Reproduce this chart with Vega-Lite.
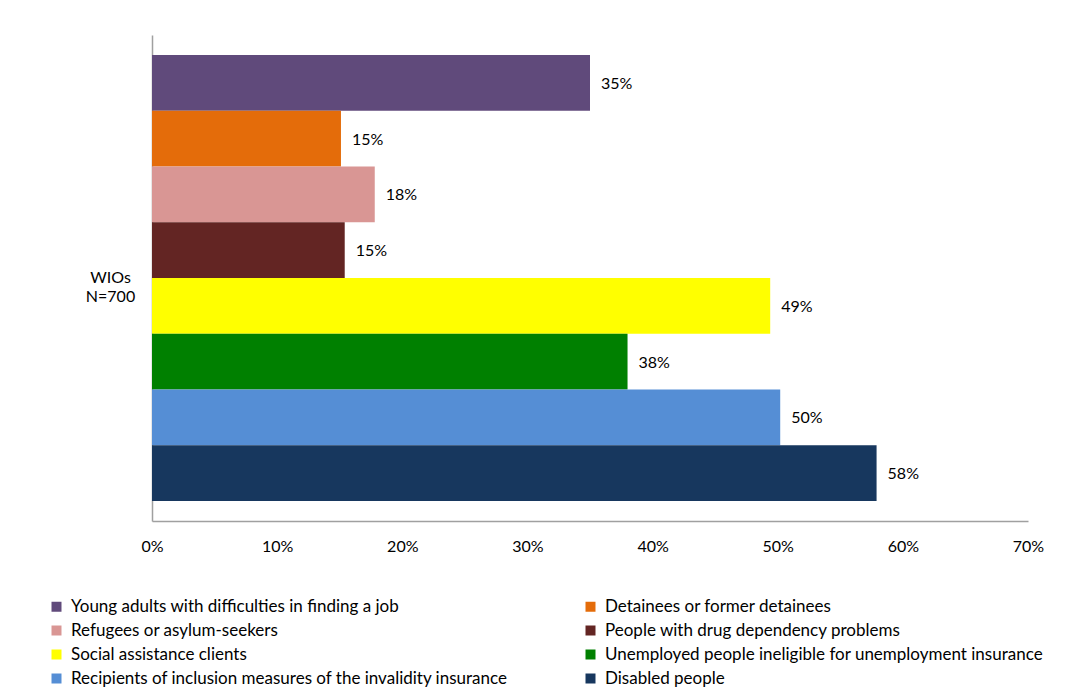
{
  "$schema": "https://vega.github.io/schema/vega-lite/v6.json",
  "width": 876,
  "height": 486,
  "autosize": {"type": "none"},
  "padding": {"left": 152, "top": 35, "right": 45, "bottom": 179},
  "background": "white",
  "config": {
    "view": {"stroke": null},
    "font": "Lato"
  },
  "data": {
    "values": [
      {"Category": "WIOs N=700", "group": "Young adults with difficulties in finding a job", "order": 1, "value": 0.350},
      {"Category": "WIOs N=700", "group": "Detainees or former detainees", "order": 2, "value": 0.151},
      {"Category": "WIOs N=700", "group": "Refugees or asylum-seekers", "order": 3, "value": 0.178},
      {"Category": "WIOs N=700", "group": "People with drug dependency problems", "order": 4, "value": 0.154},
      {"Category": "WIOs N=700", "group": "Social assistance clients", "order": 5, "value": 0.494},
      {"Category": "WIOs N=700", "group": "Unemployed people ineligible for unemployment insurance", "order": 6, "value": 0.380},
      {"Category": "WIOs N=700", "group": "Recipients of inclusion measures of the invalidity insurance", "order": 7, "value": 0.502},
      {"Category": "WIOs N=700", "group": "Disabled people", "order": 8, "value": 0.579}
    ]
  },
  "encoding": {
    "y": {
      "field": "Category",
      "type": "nominal",
      "scale": {"paddingInner": 0, "paddingOuter": 0.0448},
      "axis": {
        "title": null,
        "domainColor": "#a0a0a0",
        "domainWidth": 1.5,
        "ticks": false,
        "labelExpr": "split(datum.label, ' ')",
        "labelAlign": "center",
        "labelPadding": 42,
        "labelFontSize": 16,
        "labelColor": "black",
        "labelLineHeight": 19
      }
    },
    "yOffset": {
      "field": "group",
      "type": "nominal",
      "sort": {"field": "order"},
      "scale": {"paddingInner": 0, "paddingOuter": 0}
    },
    "x": {
      "field": "value",
      "type": "quantitative",
      "scale": {"domain": [0, 0.7], "nice": false},
      "axis": {
        "title": null,
        "format": ".0%",
        "values": [0, 0.1, 0.2, 0.3, 0.4, 0.5, 0.6, 0.7],
        "grid": false,
        "ticks": false,
        "labelFlush": false,
        "domainColor": "#a0a0a0",
        "domainWidth": 1.5,
        "labelFontSize": 16,
        "labelColor": "black",
        "labelPadding": 17
      }
    }
  },
  "layer": [
    {
      "mark": {"type": "bar"},
      "encoding": {
        "color": {
          "field": "group",
          "type": "nominal",
          "scale": {
            "domain": [
              "Young adults with difficulties in finding a job",
              "Refugees or asylum-seekers",
              "Social assistance clients",
              "Recipients of inclusion measures of the invalidity insurance",
              "Detainees or former detainees",
              "People with drug dependency problems",
              "Unemployed people ineligible for unemployment insurance",
              "Disabled people"
            ],
            "range": ["#604A7B", "#D99694", "#FFFF00", "#558ED5", "#E46C0A", "#632523", "#008000", "#17375E"]
          },
          "legend": {
            "title": null,
            "orient": "none",
            "legendX": -104,
            "legendY": 563,
            "columns": 2,
            "columnPadding": 74,
            "rowPadding": 6,
            "symbolType": "square",
            "symbolSize": 100,
            "symbolStrokeWidth": 0,
            "symbolOpacity": 1,
            "labelFontSize": 17,
            "labelColor": "black",
            "labelOffset": 6,
            "labelLimit": 600
          }
        }
      }
    },
    {
      "mark": {"type": "text", "align": "left", "baseline": "middle", "dx": 11, "dy": 1, "fontSize": 16, "color": "black"},
      "encoding": {
        "text": {"field": "value", "type": "quantitative", "format": ".0%"}
      }
    }
  ]
}
